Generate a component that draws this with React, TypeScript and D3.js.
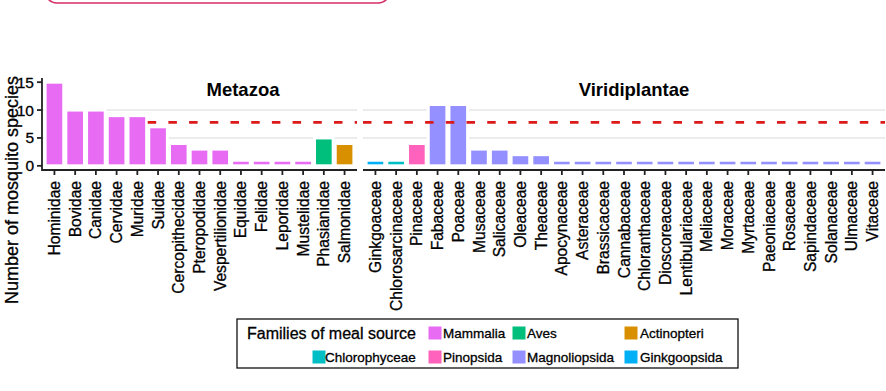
import React from "react";
import * as d3 from "d3";

const metazoaFamilies = ["Hominidae","Bovidae","Canidae","Cervidae","Muridae","Suidae","Cercopithecidae","Pteropodidae","Vespertilionidae","Equidae","Felidae","Leporidae","Mustelidae","Phasianidae","Salmonidae"];
const metazoaValues = [15,10,10,9,9,7,4,3,3,1,1,1,1,5,4];
const metazoaClasses = ["Mammalia","Mammalia","Mammalia","Mammalia","Mammalia","Mammalia","Mammalia","Mammalia","Mammalia","Mammalia","Mammalia","Mammalia","Mammalia","Aves","Actinopteri"];

const plantFamilies = ["Ginkgoaceae","Chlorosarcinaceae","Pinaceae","Fabaceae","Poaceae","Musaceae","Salicaceae","Oleaceae","Theaceae","Apocynaceae","Asteraceae","Brassicaceae","Cannabaceae","Chloranthaceae","Dioscoreaceae","Lentibulariaceae","Meliaceae","Moraceae","Myrtaceae","Paeoniaceae","Rosaceae","Sapindaceae","Solanaceae","Ulmaceae","Vitaceae"];
const plantValues = [1,1,4,11,11,3,3,2,2,1,1,1,1,1,1,1,1,1,1,1,1,1,1,1,1];
const plantClasses = ["Ginkgoopsida","Chlorophyceae","Pinopsida","Magnoliopsida","Magnoliopsida","Magnoliopsida","Magnoliopsida","Magnoliopsida","Magnoliopsida","Magnoliopsida","Magnoliopsida","Magnoliopsida","Magnoliopsida","Magnoliopsida","Magnoliopsida","Magnoliopsida","Magnoliopsida","Magnoliopsida","Magnoliopsida","Magnoliopsida","Magnoliopsida","Magnoliopsida","Magnoliopsida","Magnoliopsida","Magnoliopsida"];

const legendRow1 = ["Mammalia","Aves","Actinopteri"];
const legendRow2 = ["Chlorophyceae","Pinopsida","Magnoliopsida","Ginkgoopsida"];
const classNames = ["Actinopteri","Aves","Chlorophyceae","Ginkgoopsida","Magnoliopsida","Mammalia","Pinopsida"];
const classColors = ["#D89000","#00BF7D","#00BFC4","#00B0F6","#9590FF","#E76BF3","#FF62BC"];

const yTicks = [0,5,10,15];
const gridValues = [5,10];
const thresholdValue = 7.78;

const FONT = "'Liberation Sans', Arial, sans-serif";
const TXT = { fill: "#000", stroke: "#000", strokeWidth: 0.3 };

export default function App() {
  const color = d3.scaleOrdinal<string, string>().domain(classNames).range(classColors);
  const y = d3.scaleLinear().domain([-0.75, 15.75]).range([170, 78]);
  const xM = d3.scalePoint<string>().domain(metazoaFamilies).range([42, 357]).padding(0.6);
  const xP = d3.scalePoint<string>().domain(plantFamilies).range([363, 885]).padding(0.6);
  const bw = xM.step() * 0.9;

  const panels = [
    { x: xM, fams: metazoaFamilies, vals: metazoaValues, cls: metazoaClasses, x0: 42, x1: 357, dashStart: (xM("Muridae")! + xM("Suidae")!) / 2, title: "Metazoa", tx: 243 },
    { x: xP, fams: plantFamilies, vals: plantValues, cls: plantClasses, x0: 363, x1: 885, dashStart: 363, title: "Viridiplantae", tx: 634 },
  ];

  const legendItems1 = [
    { name: legendRow1[0], kx: 428, tx: 443 },
    { name: legendRow1[1], kx: 512, tx: 527 },
    { name: legendRow1[2], kx: 624, tx: 640 },
  ];
  const legendItems2 = [
    { name: legendRow2[0], kx: 312, tx: 325 },
    { name: legendRow2[1], kx: 428, tx: 443 },
    { name: legendRow2[2], kx: 512, tx: 527 },
    { name: legendRow2[3], kx: 624, tx: 640 },
  ];

  return (
    <svg width={886} height={391} style={{ position: "absolute", left: 0, top: 0, background: "#fff" }} fontFamily={FONT}>
      <rect x={45} y={-30} width={345} height={33} rx={12} fill="none" stroke="#D52F6A" strokeWidth={1.6} />
      {panels.map((p, pi) => (
        <g key={pi}>
          {gridValues.map((g) => (
            <line key={g} x1={p.x0} x2={p.x1} y1={y(g)} y2={y(g)} stroke="#E6E6E6" strokeWidth={1.6} />
          ))}
          {p.fams.map((f, i) => (
            <rect key={f} x={p.x(f)! - bw / 2} width={bw} y={y(p.vals[i])} height={y(0) - y(p.vals[i])}
              fill={color(p.cls[i])} stroke="#fff" strokeWidth={3} />
          ))}
          <line x1={p.dashStart} x2={p.x1} y1={y(thresholdValue)} y2={y(thresholdValue)} stroke="#DD1A1A" strokeWidth={2.7} strokeDasharray="8.5,12.2" />
          <text x={p.tx} y={96} textAnchor="middle" fontWeight="bold" fontSize={18.5} fill="#000">{p.title}</text>
          <line x1={p.x0} x2={p.x1} y1={170} y2={170} stroke="#222" strokeWidth={1.8} />
          {p.fams.map((f) => (
            <g key={f}>
              <line x1={p.x(f)} x2={p.x(f)} y1={170} y2={175} stroke="#222" strokeWidth={1.8} />
              <text transform={`translate(${p.x(f)! + 5.5},${181}) rotate(-90)`} textAnchor="end" fontSize={15.6} {...TXT}>{f}</text>
            </g>
          ))}
        </g>
      ))}
      <line x1={42} x2={42} y1={78} y2={170.9} stroke="#222" strokeWidth={1.8} />
      {yTicks.map((t) => (
        <g key={t}>
          <line x1={37} x2={42} y1={y(t)} y2={y(t)} stroke="#222" strokeWidth={1.8} />
          <text x={34} y={y(t) + 5.5} textAnchor="end" fontSize={15.5} {...TXT}>{t}</text>
        </g>
      ))}
      <text transform="translate(18,190) rotate(-90)" textAnchor="middle" fontSize={18} {...TXT}>Number of mosquito species</text>
      <rect x={237} y={319} width={501} height={49} fill="#fff" stroke="#111" strokeWidth={1.3} />
      <text x={247} y={339} fontSize={16} {...TXT}>Families of meal source</text>
      {legendItems1.map((it) => (
        <g key={it.name}>
          <rect x={it.kx} y={326} width={14} height={14} fill={color(it.name)} stroke="#fff" strokeWidth={1} />
          <text x={it.tx} y={338} fontSize={13.5} {...TXT}>{it.name}</text>
        </g>
      ))}
      {legendItems2.map((it) => (
        <g key={it.name}>
          <rect x={it.kx} y={350} width={14} height={14} fill={color(it.name)} stroke="#fff" strokeWidth={1} />
          <text x={it.tx} y={362} fontSize={13.5} {...TXT}>{it.name}</text>
        </g>
      ))}
    </svg>
  );
}
